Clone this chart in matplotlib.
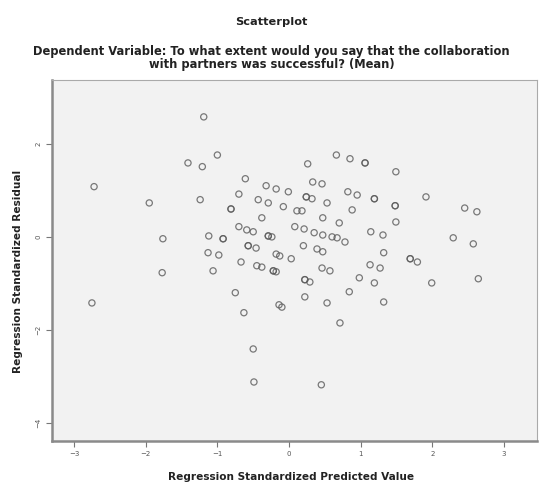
import matplotlib
matplotlib.use('Agg')
import matplotlib.pyplot as plt
import numpy as np

# standardized predicted values and residuals
pred = [-1.19, -1.00, -1.41, -1.21, -2.72, -0.61, -0.32, -0.18, -0.01, -0.70,
        -0.43, -0.29, -0.08, -1.95, -1.24, -0.81, -0.38, -0.70, -0.59, -0.50,
        -0.29, -0.24, -1.76, -1.12, -0.92, -0.57, -0.46, 0.26, 0.24, 0.11,
        0.18, 0.08, 0.21, 0.66, 0.85, 1.06, 1.49, 0.33, 0.46, 0.82,
        0.95, 1.19, 1.91, 0.32, 0.53, 0.88, 1.48, 2.45, 2.62, 0.47,
        0.70, 1.49, 0.35, 0.47, 0.60, 0.67, 0.78, 1.14, 1.31, 2.29,
        2.57, 0.20, 0.39, 0.47, -1.13, -0.98, -0.18, -0.13, 0.03, -0.67,
        -0.45, -0.38, -0.22, -0.18, -1.06, 0.22, 0.29, 0.22, -0.75, -0.14,
        -0.10, -0.63, -1.77, -2.75, -0.50, -0.49, 1.32, 1.69, 1.79, 0.46,
        0.57, 1.13, 1.27, 0.98, 1.19, 1.99, 2.64, 0.84, 0.53, 1.32,
        0.71, 0.45,
        # overlapping cases
        -0.81, -0.92, -0.29, 1.06, 1.19, 1.48, -0.57, 0.24, -0.22, 1.69, 0.22]
resid = [2.58, 1.76, 1.59, 1.51, 1.08, 1.25, 1.10, 1.03, 0.97, 0.92,
         0.80, 0.73, 0.65, 0.73, 0.80, 0.60, 0.41, 0.22, 0.15, 0.11,
         0.02, 0.00, -0.04, 0.02, -0.04, -0.19, -0.24, 1.57, 0.86, 0.56,
         0.56, 0.22, 0.17, 1.76, 1.68, 1.59, 1.40, 1.18, 1.14, 0.97,
         0.90, 0.82, 0.86, 0.82, 0.73, 0.58, 0.67, 0.62, 0.54, 0.41,
         0.30, 0.32, 0.09, 0.04, 0.00, -0.02, -0.11, 0.11, 0.04, -0.02,
         -0.15, -0.19, -0.26, -0.32, -0.34, -0.39, -0.37, -0.41, -0.47, -0.54,
         -0.62, -0.65, -0.73, -0.75, -0.73, -0.92, -0.97, -1.29, -1.20, -1.46,
         -1.51, -1.63, -0.77, -1.42, -2.41, -3.12, -0.34, -0.47, -0.54, -0.67,
         -0.73, -0.60, -0.67, -0.88, -0.99, -0.99, -0.90, -1.18, -1.42, -1.40,
         -1.85, -3.18,
         0.60, -0.04, 0.02, 1.59, 0.82, 0.67, -0.19, 0.86, -0.73, -0.47, -0.92]

xticks = [-3, -2, -1, 0, 1, 2, 3]
yticks = [-4, -2, 0, 2]

fig = plt.figure(figsize=(5.43, 4.84), dpi=100)
ax = fig.add_axes([0.096, 0.089, 0.893, 0.746])
ax.set_facecolor('#f2f2f2')

ax.scatter(pred, resid, s=20, facecolors='none', edgecolors='#5a5a5a',
           linewidths=0.9, alpha=0.8)

ax.set_xlim(-3.305, 3.459)
ax.set_ylim(-4.387, 3.376)
ax.set_xticks(xticks)
ax.set_yticks(yticks)
ax.tick_params(direction='out', length=4, width=0.8, color='#777',
               labelsize=5, labelcolor='#555')
for lab in ax.get_yticklabels():
    lab.set_rotation(90)
    lab.set_va('center')

for side in ['top', 'right']:
    ax.spines[side].set_color('#aaa')
    ax.spines[side].set_linewidth(0.8)
for side in ['left', 'bottom']:
    ax.spines[side].set_color('#8a8a8a')
    ax.spines[side].set_linewidth(1.8)

fig.text(0.5, 0.955, 'Scatterplot', ha='center', va='center',
         fontsize=8.2, fontweight='bold', color='#222')
fig.text(0.5, 0.880,
         'Dependent Variable: To what extent would you say that the collaboration\n'
         'with partners was successful? (Mean)',
         ha='center', va='center', fontsize=8.3, fontweight='bold',
         color='#222', linespacing=0.95)
fig.text(0.536, 0.015, 'Regression Standardized Predicted Value', ha='center',
         va='center', fontsize=7.6, fontweight='bold', color='#222')
fig.text(0.033, 0.44, 'Regression Standardized Residual', ha='center',
         va='center', rotation=90, fontsize=7.6, fontweight='bold', color='#222')

fig.savefig('out.png', dpi=100)
